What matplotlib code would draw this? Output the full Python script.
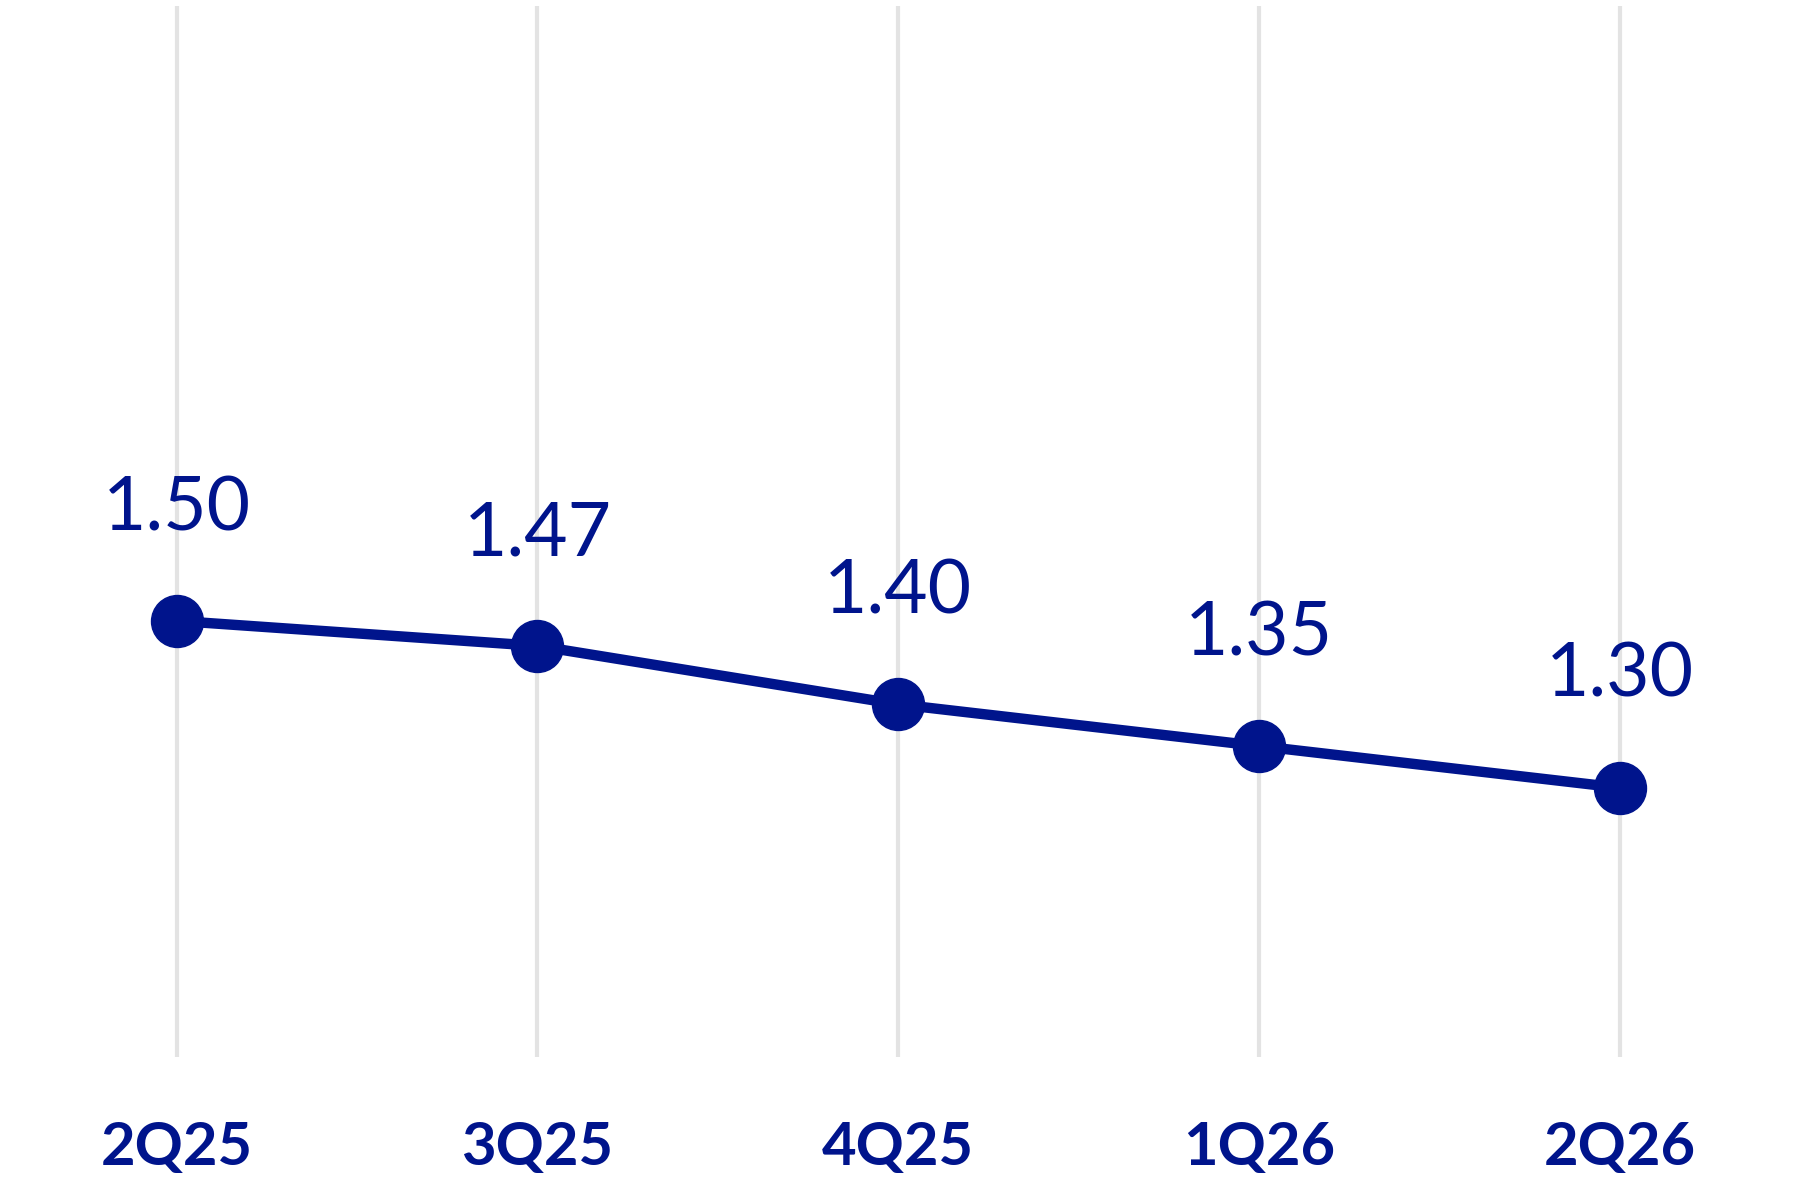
import matplotlib
matplotlib.use("Agg")
import matplotlib.pyplot as plt

quarters = ["2Q25", "3Q25", "4Q25", "1Q26", "2Q26"]
values = [1.50, 1.47, 1.40, 1.35, 1.30]
color = "#00148C"

fig = plt.figure(figsize=(18, 12), dpi=100)
ax = fig.add_axes([0, 0.119, 1, 0.876])
x = list(range(len(quarters)))
ax.set_xlim(-0.49, 4.5)
ax.set_ylim(0.977, 2.237)
for xi in x:
    ax.axvline(xi, color="#e3e3e3", lw=3, zorder=0)
ax.plot(x, values, color=color, lw=7.5, zorder=2, solid_capstyle="round")
ax.scatter(x, values, s=1400, color=color, zorder=3)
for xi, v in zip(x, values):
    ax.annotate(f"{v:.2f}", (xi, v), xytext=(0, 56), textcoords="offset points",
                ha="center", va="bottom", fontsize=54, color=color, family="Lato")
ax.set_xticks(x)
ax.set_xticklabels(quarters, fontsize=43, fontweight="bold", color=color, family="Lato")
ax.tick_params(axis="x", length=0, pad=46)
ax.set_yticks([])
for s in ax.spines.values():
    s.set_visible(False)
fig.savefig("out.png", dpi=100)
